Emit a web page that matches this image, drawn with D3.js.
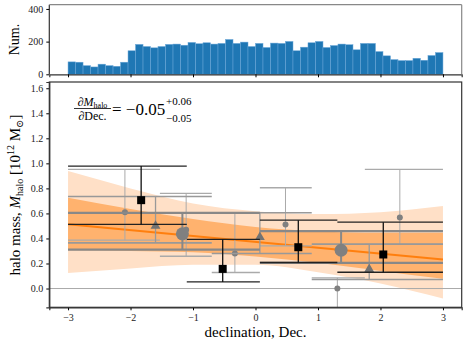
<!DOCTYPE html>
<html>
<head>
<meta charset="utf-8">
<script src="https://cdn.jsdelivr.net/npm/d3@7"></script>
<style>
  body { margin: 0; background: white; }
  svg, svg text { font-family: "Liberation Serif", "DejaVu Serif", serif; }
</style>
</head>
<body>
<div id="container"></div>
<script>
// histogram of declination, 50 bins from -3 to 3
const histCounts = [76, 74, 53, 45, 62, 53, 49, 74, 144, 183, 170, 162, 170, 183, 185, 178, 195, 187, 193, 185,
  189, 213, 189, 197, 170, 189, 164, 191, 189, 201, 144, 166, 193, 201, 164, 176, 185, 181, 150, 189,
  189, 139, 113, 90, 84, 84, 98, 86, 115, 133]
const histMin = -3, histMax = 3

// binned halo mass measurements: [binLo, binHi, x, y, errLo, errHi]
const smallCircles = [
  [-3.0, -1.53, -2.09, 0.61, 0.386, 0.952],
  [-1.53, -0.70, -1.11, 0.47, 0.258, 0.76],
  [-0.70, 0.07, -0.33, 0.28, 0.128, 0.60],
  [0.07, 0.90, 0.48, 0.512, 0.341, 0.805],
  [0.90, 1.75, 1.31, 0.0, -0.2, 0.085],
  [1.75, 3.0, 2.31, 0.568, 0.352, 0.952]
]
const triangles = [
  [-3.0, -0.70, -1.60, 0.50, 0.365, 0.735],
  [-0.70, 0.90, 0.07, 0.41, 0.28, 0.605],
  [0.90, 3.0, 1.82, 0.155, 0.072, 0.355]
]
const bigCircles = [
  [-3.0, 0.07, -1.17, 0.437, 0.31, 0.605],
  [0.07, 3.0, 1.37, 0.306, 0.205, 0.458]
]
const squares = [
  [-3.0, -1.10, -1.83, 0.706, 0.512, 0.978],
  [-1.10, 0.07, -0.525, 0.157, 0.053, 0.392],
  [0.07, 1.31, 0.685, 0.33, 0.208, 0.546],
  [1.31, 3.0, 2.045, 0.272, 0.13, 0.53]
]

// linear fit and its credible bands
const fitIntercept = 0.372, fitSlope = -0.047
const bandX = [-3, -2, -1, 0, 1, 2, 3]
const band1Lo = [0.306, 0.30, 0.29, 0.255, 0.205, 0.14, 0.078]
const band1Hi = [0.725, 0.635, 0.555, 0.492, 0.458, 0.445, 0.446]
const band2Lo = [0.125, 0.16, 0.19, 0.19, 0.13, 0.04, -0.08]
const band2Hi = [0.938, 0.80, 0.68, 0.618, 0.595, 0.61, 0.66]

const xTicks = [-3, -2, -1, 0, 1, 2, 3]
const yTicks = [0.0, 0.2, 0.4, 0.6, 0.8, 1.0, 1.2, 1.4, 1.6]
const histTicks = [0, 200, 400]

const w = 469, h = 351
const left = 49.3, right = 461.7
const svg = d3.select("#container").append("svg").attr("width", w).attr("height", h)

const x = d3.scaleLinear().domain([-3.3, 3.3]).range([left, right])
const yh = d3.scaleLinear().domain([0, 2 * d3.max(histCounts)]).range([74.3, 4.7])
const y = d3.scaleLinear().domain([-0.15, 1.65]).range([307.3, 82])

// ---------- top panel ----------
const binW = (histMax - histMin) / histCounts.length
svg.append("g").selectAll("rect")
  .data(histCounts)
  .enter()
  .append("rect")
  .attr("x", (d, i) => x(histMin + i * binW))
  .attr("width", x(binW) - x(0))
  .attr("y", d => yh(d))
  .attr("height", d => yh(0) - yh(d))
  .attr("fill", "#1f77b4")
  .attr("stroke", "#6aa6d8")
  .attr("stroke-width", 0.5)

const topX = svg.append("g").attr("transform", `translate(0, ${yh(0)})`)
  .call(d3.axisBottom(x).tickValues(xTicks).tickSize(3).tickFormat(""))
const topY = svg.append("g").attr("transform", `translate(${left}, 0)`)
  .call(d3.axisLeft(yh).tickValues(histTicks).tickSize(3))
svg.append("line").attr("x1", left).attr("x2", right).attr("y1", yh.range()[1]).attr("y2", yh.range()[1])
  .attr("stroke", "#888").attr("stroke-width", 1.2)
svg.append("line").attr("x1", right).attr("x2", right).attr("y1", yh.range()[1]).attr("y2", yh(0))
  .attr("stroke", "#888").attr("stroke-width", 1.2)
topY.select(".domain").attr("d", `M0,${yh(0)}V${yh.range()[1]}`)

svg.append("text").attr("transform", `translate(19, ${(74.3 + 4.7) / 2}) rotate(-90)`)
  .attr("text-anchor", "middle").attr("font-size", 14).text("Num.")

// ---------- main panel ----------
const area = (lo, hi) => d3.area().x((d, i) => x(bandX[i])).y0((d, i) => y(lo[i])).y1((d, i) => y(hi[i]))
  .curve(d3.curveMonotoneX)(bandX)
const clip = svg.append("clipPath").attr("id", "clip").append("rect")
  .attr("x", left).attr("y", 82).attr("width", right - left).attr("height", 307.3 - 82)
const plot = svg.append("g").attr("clip-path", "url(#clip)")

plot.append("path").attr("d", area(band2Lo, band2Hi)).attr("fill", "#ffe0c7")
plot.append("path").attr("d", area(band1Lo, band1Hi)).attr("fill", "#ffb26e")
plot.append("line").attr("x1", x(-3)).attr("x2", x(3))
  .attr("y1", y(fitIntercept + fitSlope * -3)).attr("y2", y(fitIntercept + fitSlope * 3))
  .attr("stroke", "#ff7f0e").attr("stroke-width", 2)

plot.append("line").attr("x1", left).attr("x2", right).attr("y1", y(0)).attr("y2", y(0))
  .attr("stroke", "#aaa").attr("stroke-width", 1)

function drawSeries(data, lineColor, lineW, hColor, hW) {
  const g = plot.append("g")
  data.forEach(d => {
    g.append("line").attr("x1", x(d[0])).attr("x2", x(d[1])).attr("y1", y(d[5])).attr("y2", y(d[5]))
      .attr("stroke", hColor).attr("stroke-width", hW)
    g.append("line").attr("x1", x(d[0])).attr("x2", x(d[1])).attr("y1", y(d[4])).attr("y2", y(d[4]))
      .attr("stroke", hColor).attr("stroke-width", hW)
    g.append("line").attr("x1", x(d[2])).attr("x2", x(d[2])).attr("y1", y(d[4])).attr("y2", y(d[5]))
      .attr("stroke", lineColor).attr("stroke-width", lineW)
  })
  return g
}

drawSeries(smallCircles, "#aaa", 1, "#aaa", 1.3)
  .selectAll("circle").data(smallCircles).enter().append("circle")
  .attr("cx", d => x(d[2])).attr("cy", d => y(d[3])).attr("r", 3).attr("fill", "#808080")

drawSeries(triangles, "#999", 1.3, "#999", 1.6)
  .selectAll("path.tri").data(triangles).enter().append("path")
  .attr("d", d3.symbol(d3.symbolTriangle, 42))
  .attr("transform", d => `translate(${x(d[2])}, ${y(d[3])})`).attr("fill", "#737373")

drawSeries(bigCircles, "#888", 2, "#888", 2.2)
  .selectAll("circle").data(bigCircles).enter().append("circle")
  .attr("cx", d => x(d[2])).attr("cy", d => y(d[3])).attr("r", 6.5).attr("fill", "#808080")

drawSeries(squares, "#111", 1.3, "#222", 1.3)
  .selectAll("rect").data(squares).enter().append("rect")
  .attr("x", d => x(d[2]) - 4).attr("y", d => y(d[3]) - 4).attr("width", 8).attr("height", 8).attr("fill", "black")

// axes
const xAxis = svg.append("g").attr("transform", `translate(0, 307.3)`)
  .call(d3.axisBottom(x).tickValues(xTicks).tickSize(3).tickPadding(4).tickFormat(d => d3.format("")(d).replace("-", "\u2212")))
const yAxis = svg.append("g").attr("transform", `translate(${left}, 0)`)
  .call(d3.axisLeft(y).tickValues(yTicks).tickSize(3).tickFormat(d3.format(".1f")))
svg.append("rect").attr("x", left).attr("y", 82).attr("width", right - left).attr("height", 307.3 - 82)
  .attr("fill", "none").attr("stroke", "#333").attr("stroke-width", 1.2)

svg.selectAll(".tick text").attr("font-size", 10).attr("fill", "#222")
  .attr("font-family", "Liberation Serif, serif")
svg.selectAll(".domain").attr("stroke", "#333").attr("stroke-width", 1.2)

svg.append("text").attr("x", 255.5).attr("y", 337).attr("text-anchor", "middle").attr("font-size", 15)
  .text("declination, Dec.")

const ylab = svg.append("text").attr("transform", `translate(20, 195) rotate(-90)`)
  .attr("text-anchor", "middle").attr("font-size", 15)
ylab.append("tspan").text("halo mass, ")
ylab.append("tspan").attr("font-style", "italic").text("M")
ylab.append("tspan").attr("font-size", 10).attr("dy", 3).text("halo")
ylab.append("tspan").attr("dy", -3).text(" [10")
ylab.append("tspan").attr("font-size", 10).attr("dy", -6).text("12")
ylab.append("tspan").attr("dy", 6).text(" M")
ylab.append("tspan").attr("font-size", 10).attr("dy", 3).text("\u2299")
ylab.append("tspan").attr("dy", -3).text("]")

// slope annotation
const num = svg.append("text").attr("x", 92.5).attr("y", 105.5).attr("font-size", 12).attr("text-anchor", "middle")
num.append("tspan").text("\u2202")
num.append("tspan").attr("font-style", "italic").text("M")
num.append("tspan").attr("font-size", 8).attr("dy", 2).text("halo")
svg.append("line").attr("x1", 74).attr("x2", 111).attr("y1", 108.5).attr("y2", 108.5)
  .attr("stroke", "black").attr("stroke-width", 0.8)
svg.append("text").attr("x", 92.5).attr("y", 120).attr("text-anchor", "middle").attr("font-size", 12)
  .text("\u2202Dec.")
svg.append("text").attr("x", 112).attr("y", 115).attr("font-size", 17).text("= \u22120.05")
svg.append("text").attr("x", 166).attr("y", 105).attr("font-size", 11).text("+0.06")
svg.append("text").attr("x", 166).attr("y", 122).attr("font-size", 11).text("\u22120.05")
</script>
</body>
</html>
